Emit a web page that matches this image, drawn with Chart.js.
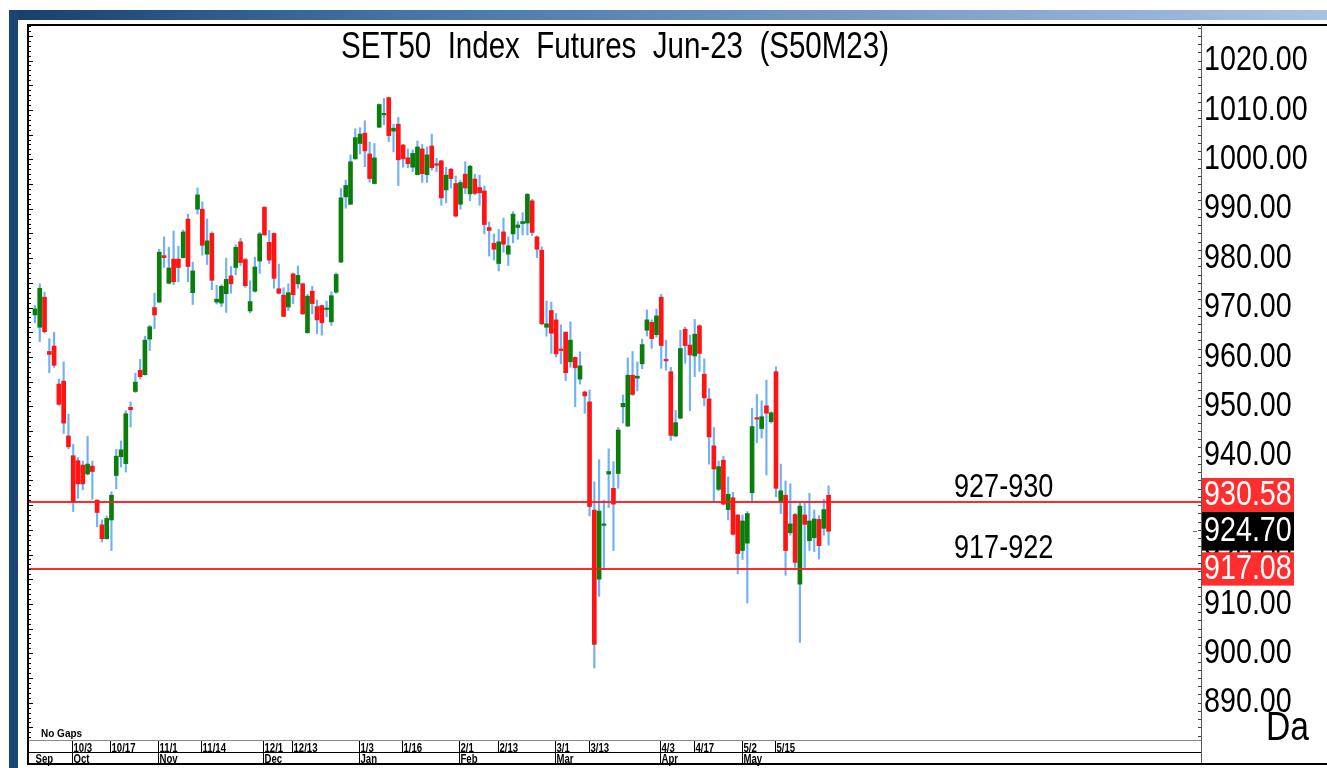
<!DOCTYPE html>
<html>
<head>
<meta charset="utf-8">
<script src="https://cdn.jsdelivr.net/npm/chart.js@4.4.1/dist/chart.umd.min.js"></script>
<style>
html,body{margin:0;padding:0;background:#fff;overflow:hidden}
canvas{display:block}
</style>
</head>
<body>
<canvas id="c" width="1327" height="768"></canvas>
<script>
// ---------------- DATA ----------------
const dates = [
 '9/21','9/22','9/23','9/26','9/27','9/28','9/29','9/30',
 '10/3','10/4','10/5','10/6','10/7','10/10','10/11','10/12','10/17','10/18','10/19','10/20','10/21','10/25','10/26','10/27','10/28','10/31',
 '11/1','11/2','11/3','11/4','11/7','11/8','11/9','11/10','11/11','11/14','11/15','11/16','11/17','11/18','11/21','11/22','11/23','11/24','11/25','11/28','11/29','11/30',
 '12/1','12/2','12/6','12/7','12/8','12/9','12/13','12/14','12/15','12/16','12/19','12/20','12/21','12/22','12/23','12/26','12/27','12/28','12/29','12/30',
 '1/3','1/4','1/5','1/6','1/9','1/10','1/11','1/12','1/13','1/16','1/17','1/18','1/19','1/20','1/23','1/24','1/25','1/26','1/27','1/30','1/31',
 '2/1','2/2','2/3','2/6','2/7','2/8','2/9','2/10','2/13','2/14','2/15','2/16','2/17','2/20','2/21','2/22','2/23','2/24','2/27','2/28',
 '3/1','3/2','3/3','3/7','3/8','3/9','3/10','3/13','3/14','3/15','3/16','3/17','3/20','3/21','3/22','3/23','3/24','3/27','3/28','3/29','3/30','3/31',
 '4/3','4/4','4/5','4/7','4/10','4/11','4/12','4/17','4/18','4/19','4/20','4/21','4/24','4/25','4/26','4/27','4/28',
 '5/2','5/3','5/8','5/9','5/10','5/11','5/12','5/15','5/16','5/17','5/18','5/19','5/22','5/23','5/24','5/25','5/26','5/29','5/30'
];

const openP = [
 968.5, 966.0, 972.1, 961.1, 962.2, 954.5, 955.1, 944.0, 940.0, 939.0,
 938.1, 936.3, 937.9, 931.0, 926.0, 923.2, 927.0, 936.0, 939.8, 938.4,
 949.8, 953.0, 957.3, 956.4, 963.6, 970.0, 971.1, 980.5, 974.9, 979.8,
 979.8, 980.1, 987.9, 973.0, 989.9, 989.9, 980.8, 985.0, 971.1, 970.9,
 972.8, 976.4, 978.1, 983.3, 979.7, 969.3, 973.3, 979.4, 990.3, 983.2,
 985.0, 973.8, 972.5, 970.1, 976.8, 974.8, 974.8, 964.9, 973.3, 970.2,
 970.4, 969.6, 967.1, 973.1, 979.2, 992.4, 990.9, 1000.1, 1003.2, 1005.3,
 1001.1, 995.1, 1006.5, 1009.0, 1012.5, 1005.7, 1007.1, 1002.9, 1000.3, 998.4,
 996.9, 1002.1, 996.9, 1002.7, 998.9, 999.7, 993.8, 998.0, 995.1, 990.9,
 997.0, 993.0, 996.0, 994.3, 993.6, 986.2, 983.0, 978.9, 985.3, 980.8,
 984.9, 986.2, 987.0, 987.1, 991.6, 984.3, 981.6, 966.0, 969.4, 967.5,
 961.4, 965.0, 959.0, 959.9, 955.5, 952.9, 950.9, 929.0, 915.0, 925.9,
 936.3, 933.4, 936.4, 949.9, 946.0, 956.3, 955.7, 958.6, 965.4, 967.0,
 964.5, 972.1, 959.5, 957.0, 944.0, 947.6, 965.6, 962.4, 960.2, 966.3,
 956.5, 951.5, 942.0, 933.2, 939.1, 929.1, 931.5, 928.0, 920.8, 922.3,
 932.5, 947.6, 945.5, 950.1, 946.9, 957.0, 930.7, 932.0, 924.4, 928.1,
 914.0, 928.0, 922.8, 923.4, 927.1, 925.3, 932.0
];
const highP = [
 970.4, 974.8, 973.1, 963.7, 965.0, 955.5, 959.0, 948.4, 942.3, 939.6,
 938.9, 943.9, 938.9, 931.1, 927.0, 927.8, 932.7, 941.3, 943.0, 949.1,
 950.9, 956.7, 959.5, 964.2, 966.4, 972.9, 981.8, 984.3, 982.2, 985.5,
 982.4, 985.7, 988.9, 979.2, 994.2, 991.4, 987.9, 985.3, 974.5, 974.6,
 980.0, 978.3, 982.7, 984.0, 980.0, 975.4, 980.2, 985.2, 990.4, 985.6,
 985.1, 978.8, 974.0, 974.8, 977.0, 978.4, 975.0, 972.7, 974.3, 971.5,
 970.5, 971.3, 973.2, 977.0, 994.1, 995.8, 1000.9, 1006.2, 1006.4, 1007.8,
 1003.5, 1003.2, 1011.2, 1012.3, 1012.6, 1007.1, 1008.5, 1003.0, 1002.1, 1001.9,
 1003.7, 1003.0, 1002.5, 1005.1, 1000.2, 999.8, 998.4, 998.2, 996.6, 995.7,
 999.5, 998.8, 997.0, 996.8, 994.6, 987.3, 984.9, 985.8, 988.1, 984.3,
 989.4, 987.4, 989.2, 993.1, 991.9, 984.5, 982.3, 971.3, 971.1, 968.8,
 966.5, 965.1, 967.1, 960.0, 961.0, 953.1, 953.3, 934.7, 939.2, 931.0,
 941.4, 938.8, 945.7, 952.3, 959.8, 961.1, 959.0, 963.6, 969.5, 967.5,
 969.7, 972.7, 963.4, 957.9, 949.2, 965.4, 966.0, 964.4, 967.6, 966.5,
 959.6, 953.6, 945.7, 938.9, 939.9, 935.7, 932.6, 928.1, 928.0, 928.7,
 949.6, 952.4, 951.1, 955.3, 948.9, 958.0, 938.3, 934.9, 934.3, 928.3,
 930.4, 930.4, 932.4, 929.0, 927.9, 931.2, 933.9
];
const lowP = [
 966.9, 963.1, 964.8, 956.8, 957.9, 950.2, 944.5, 941.4, 928.7, 931.4,
 933.1, 936.1, 931.2, 925.6, 922.5, 923.1, 920.8, 933.3, 937.7, 936.7,
 945.8, 952.8, 955.5, 956.3, 961.3, 965.7, 971.0, 978.1, 974.8, 974.6,
 975.2, 980.0, 975.2, 970.6, 988.9, 980.6, 978.7, 973.6, 970.7, 970.2,
 969.0, 972.9, 976.6, 978.5, 974.1, 968.9, 973.1, 976.9, 984.6, 978.9,
 973.9, 972.7, 968.1, 969.4, 970.8, 973.9, 968.6, 964.8, 968.7, 964.7,
 964.4, 968.1, 966.4, 972.9, 979.1, 990.1, 990.8, 1000.0, 1001.1, 998.5,
 995.4, 995.0, 1006.4, 1007.0, 1003.6, 1001.5, 994.7, 998.4, 998.3, 997.5,
 996.8, 995.3, 995.3, 997.8, 997.5, 990.7, 991.2, 994.2, 988.3, 989.9,
 993.1, 991.6, 992.8, 990.7, 984.9, 980.4, 979.6, 977.4, 981.2, 978.5,
 983.1, 983.8, 984.7, 984.7, 984.6, 980.1, 966.5, 964.2, 960.7, 960.0,
 958.6, 955.2, 957.9, 949.9, 954.5, 948.6, 927.8, 897.0, 911.5, 916.9,
 929.5, 920.8, 933.4, 946.6, 945.9, 952.2, 953.1, 957.6, 964.2, 961.7,
 964.0, 957.7, 957.3, 943.1, 943.8, 947.5, 958.7, 949.1, 956.0, 957.1,
 950.1, 938.3, 930.7, 932.9, 930.0, 927.0, 923.9, 916.1, 919.0, 910.2,
 930.7, 942.6, 943.6, 936.1, 946.6, 931.7, 928.3, 915.8, 923.9, 917.4,
 902.2, 917.2, 920.8, 920.6, 919.1, 923.9, 921.9
];
const closeP = [
 969.7, 973.9, 965.1, 960.5, 958.3, 950.4, 946.6, 941.8, 930.7, 934.3,
 934.3, 938.3, 936.8, 928.5, 923.2, 927.3, 932.0, 939.9, 941.2, 948.5,
 949.3, 954.9, 956.0, 963.4, 966.1, 968.5, 981.2, 980.1, 978.0, 975.2,
 978.1, 985.3, 978.3, 977.4, 992.8, 982.6, 983.5, 975.5, 971.7, 974.3,
 975.7, 974.8, 982.2, 979.1, 974.4, 971.2, 978.2, 984.9, 984.7, 979.6,
 975.9, 972.9, 968.2, 973.0, 972.6, 976.5, 968.7, 972.3, 970.8, 967.5,
 966.9, 969.6, 972.4, 976.7, 992.2, 994.7, 999.5, 1004.4, 1005.1, 1001.7,
 996.1, 1000.3, 1011.1, 1009.0, 1004.8, 1006.3, 999.9, 1000.1, 999.1, 1001.2,
 1002.5, 997.1, 1000.9, 998.3, 998.8, 992.2, 996.8, 996.1, 988.5, 995.3,
 994.2, 998.6, 993.1, 993.2, 986.8, 985.6, 981.8, 983.3, 982.8, 982.5,
 988.9, 986.7, 987.4, 992.9, 985.2, 981.8, 966.7, 966.7, 964.8, 960.6,
 961.3, 956.8, 963.4, 957.8, 958.2, 952.1, 929.7, 901.8, 928.8, 926.0,
 936.8, 930.2, 945.2, 950.6, 956.3, 952.4, 956.1, 962.5, 967.5, 963.7,
 968.3, 962.3, 959.2, 944.1, 946.7, 961.7, 962.3, 960.4, 964.6, 960.7,
 951.7, 943.8, 937.3, 937.8, 930.2, 932.2, 924.1, 920.2, 926.8, 928.3,
 945.9, 947.4, 947.9, 948.6, 948.7, 933.4, 932.9, 920.8, 926.2, 918.4,
 929.8, 926.1, 926.8, 927.2, 921.8, 929.1, 924.7
];

const dateTicks = ['10/3','10/17','11/1','11/14','12/1','12/13','1/3','1/16','2/1','2/13','3/1','3/13','4/3','4/17','5/2','5/15'];
const monthNames = ['Sep','Oct','Nov','Dec','Jan','Feb','Mar','Apr','May'];
const monthStarts = ['9/21','10/3','11/1','12/1','1/3','2/1','3/1','4/3','5/2'];

const yTickValues = [890, 900, 910, 920, 930, 940, 950, 960, 970, 980, 990, 1000, 1010, 1020];
const levelValues = [930.58, 917.08];
const levelLabels = ['927-930', '917-922'];
const lastPrice = 924.70;
const titleText = 'SET50  Index  Futures  Jun-23  (S50M23)';
const noGapsText = 'No Gaps';
const periodText = 'Da';

// ---------------- STYLE ----------------
const GREEN = '#0b7d0b';
const RED = '#ff1414';
const WICK = 'rgba(70,155,240,0.78)';
const LEVEL = 'rgba(255,25,25,0.92)';
const FONT = '"Liberation Sans", Arial, Helvetica, sans-serif';

const Y_MIN = 882.25, Y_MAX = 1027.19;
const X_MIN = -1.25, X_MAX = 243.9;

function narrowText(ctx, text, x, y, size, o) {
  o = o || {};
  ctx.save();
  ctx.font = (o.weight || 'normal') + ' ' + size + 'px ' + FONT;
  ctx.fillStyle = o.color || '#000';
  ctx.textAlign = o.align || 'left';
  ctx.textBaseline = o.baseline || 'alphabetic';
  ctx.translate(x, y);
  ctx.scale(o.sx || 0.82, 1);
  ctx.fillText(text, 0, 0);
  ctx.restore();
}

const decor = {
  id: 'decor',
  beforeDraw(chart) {
    const ctx = chart.ctx, W = chart.width, H = chart.height;
    ctx.save();
    ctx.fillStyle = '#fff';
    ctx.fillRect(0, 0, W, H);
    const g = ctx.createLinearGradient(9, 0, W, 0);
    g.addColorStop(0, '#173f6c');
    g.addColorStop(0.3, '#4674a7');
    g.addColorStop(1, '#a8c2e3');
    ctx.fillStyle = g;
    ctx.fillRect(9, 10, W - 9, 10);
    ctx.fillStyle = '#1b4574';
    ctx.fillRect(9, 10, 9, H - 10);
    ctx.restore();
  },
  afterDatasetsDraw(chart) {
    const ctx = chart.ctx, ca = chart.chartArea, y = chart.scales.y;
    ctx.save();
    ctx.strokeStyle = LEVEL;
    ctx.lineWidth = 2;
    levelValues.forEach(v => {
      const py = Math.round(y.getPixelForValue(v));
      ctx.beginPath();
      ctx.moveTo(ca.left, py);
      ctx.lineTo(ca.right, py);
      ctx.stroke();
    });
    ctx.restore();
    narrowText(ctx, levelLabels[0], 954, y.getPixelForValue(levelValues[0]) - 5.5, 33);
    narrowText(ctx, levelLabels[1], 954, y.getPixelForValue(levelValues[1]) - 11, 33);
  },
  afterDraw(chart) {
    const ctx = chart.ctx, ca = chart.chartArea, y = chart.scales.y, x = chart.scales.x;
    const W = chart.width;
    ctx.save();
    // frame
    ctx.fillStyle = '#000';
    ctx.fillRect(27, 24, 2, 741);
    ctx.fillRect(27, 24, W - 27, 2);
    ctx.fillStyle = '#5a5a5a';
    ctx.fillRect(ca.right, 25, 1, 740);
    // left axis ticks
    ctx.fillStyle = '#000';
    for (let v = Math.ceil(y.min); v <= Math.floor(y.max); v++) {
      const py = Math.round(y.getPixelForValue(v));
      const len = (v % 5 === 0) ? 4 : 2;
      ctx.fillRect(29, py, len, 1);
    }
    // right axis ticks
    ctx.fillStyle = '#444';
    for (let k = 0; ; k++) {
      const v = 880 + k * 10 / 6;
      if (v > y.max) break;
      if (v < y.min) continue;
      const py = Math.round(y.getPixelForValue(v));
      ctx.fillRect(ca.right - 3, py, 3, 1);
    }
    ctx.restore();
    // y tick labels
    yTickValues.forEach(v => {
      narrowText(ctx, v.toFixed(2), ca.right + 3, y.getPixelForValue(v), 35, {baseline: 'middle'});
    });
    // price boxes
    const bx = ca.right + 1, bw = 92;
    const pLast = y.getPixelForValue(lastPrice);
    const blackTop = pLast - 19.3;
    const r1Top = blackTop - 34;
    const p2 = y.getPixelForValue(levelValues[1]);
    const r2Top = p2 - 16.7;
    ctx.save();
    ctx.fillStyle = '#ff2e2e';
    ctx.fillRect(bx, r1Top, bw, 34);
    ctx.fillRect(bx, r2Top, bw, 33.4);
    ctx.fillStyle = '#000';
    ctx.fillRect(bx, blackTop, bw, 38.6);
    ctx.fillStyle = '#666';
    ctx.fillRect(ca.right - 8, Math.round(pLast), 4, 1);
    ctx.restore();
    narrowText(ctx, levelValues[0].toFixed(2), ca.right + 3, r1Top + 17, 35, {baseline: 'middle', color: '#fff'});
    narrowText(ctx, lastPrice.toFixed(2), ca.right + 3, pLast, 35, {baseline: 'middle', color: '#fff'});
    narrowText(ctx, levelValues[1].toFixed(2), ca.right + 3, r2Top + 16.7, 35, {baseline: 'middle', color: '#fff'});

    // date panel
    ctx.save();
    ctx.fillStyle = '#8a8a8a';
    ctx.fillRect(29, 740, ca.right - 29, 1);
    ctx.fillStyle = '#000';
    ctx.fillRect(29, 752, ca.right - 29, 1);
    ctx.fillRect(27, 763, W - 27, 2);
    dateTicks.forEach(d => {
      const i = dates.indexOf(d);
      const px = Math.round(x.getPixelForValue(i)) - 1;
      ctx.fillStyle = '#000';
      ctx.fillRect(px, 741, 1, 11);
      narrowText(ctx, d, px + 1.5, 751.5, 12, {weight: 'bold', sx: 0.8});
    });
    monthNames.forEach((m, k) => {
      const i = dates.indexOf(monthStarts[k]);
      const px = Math.round(x.getPixelForValue(i)) - 1;
      if (k > 0) {
        ctx.fillStyle = '#000';
        ctx.fillRect(px, 753, 1, 10);
      }
      narrowText(ctx, m, px + 1.5, 762.5, 12, {weight: 'bold', sx: 0.8});
    });
    ctx.restore();
    ctx.save();
    ctx.font = 'bold 10px ' + FONT;
    ctx.fillStyle = '#000';
    ctx.textBaseline = 'alphabetic';
    ctx.fillText(noGapsText, 41, 737);
    ctx.restore();
    // title + period
    narrowText(ctx, titleText, 615, 58, 36, {align: 'center'});
    narrowText(ctx, periodText, 1266, 740, 41);
  }
};

new Chart(document.getElementById('c'), {
  type: 'bar',
  data: {
    datasets: [
      {
        label: 'Body',
        data: dates.map((d, i) => ({x: i, y: [openP[i], closeP[i]]})),
        backgroundColor: dates.map((d, i) => closeP[i] >= openP[i] ? GREEN : RED),
        barThickness: 4,
        minBarLength: 1.5,
        grouped: false,
        borderWidth: 0,
        order: 0
      },
      {
        label: 'Wick',
        data: dates.map((d, i) => ({x: i, y: [lowP[i], highP[i]]})),
        backgroundColor: WICK,
        barThickness: 1.5,
        grouped: false,
        borderWidth: 0,
        order: 1
      }
    ]
  },
  options: {
    responsive: false,
    animation: false,
    events: [],
    layout: {padding: {left: 29, top: 25, right: 0, bottom: 27}},
    plugins: {legend: {display: false}, title: {display: false}, tooltip: {enabled: false}},
    scales: {
      x: {type: 'linear', min: X_MIN, max: X_MAX, offset: false, display: false},
      y: {
        type: 'linear', position: 'right', min: Y_MIN, max: Y_MAX, display: true,
        ticks: {display: false}, grid: {display: false}, border: {display: false},
        afterFit(s) { s.width = 126; }
      }
    }
  },
  plugins: [decor]
});
</script>
</body>
</html>
